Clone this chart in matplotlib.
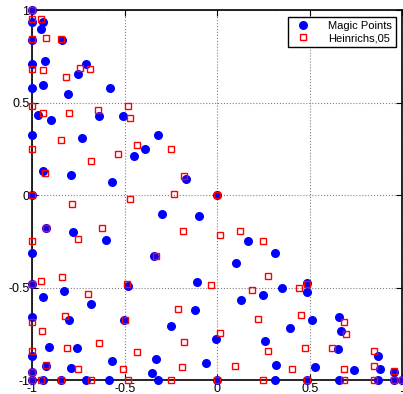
import matplotlib
matplotlib.use('Agg')
import matplotlib.pyplot as plt

# Magic Points (blue dots)
magic_x = [-1, -1, -0.941, -0.950, -1, -0.841, -0.932, -1, -0.710, -0.750,
           -1, -0.941, -0.809, -0.582, -0.971, -0.901, -0.640, -0.510,
           -1, -0.732, -0.391, -0.450, -0.941, -0.791, -0.571, -1, -0.923,
           -0.782, -0.600, -1, -0.341,
           -0.319, -0.169, 0, -0.301, -0.101, 0.169, 0.310,
           -1, -0.942, -0.831, -0.683, -1, -0.800, -0.503, -0.910, -0.760,
           -1, -0.569, -0.923, -0.791, -1, -1, -0.942, -0.845, -0.712,
           -0.584, -0.483,
           0.099, -0.110, 0.352, 0.250, 0.130, -0.121, -0.250, -0.009,
           0.259, -0.332, -0.059, 0.319, -0.350, -0.319, 0, 0.310,
           0.484, 0.484, 0.511, 0.394, 0.660, 0.669, 0.651, 0.871, 0.531,
           0.741, 0.880, 0.954, 0.484, 0.660, 0.871, 0.954, 1]
magic_y = [1, 0.937, 0.937, 0.897, 0.838, 0.838, 0.726, 0.708, 0.708, 0.658,
           0.577, 0.598, 0.548, 0.577, 0.436, 0.409, 0.429, 0.429,
           0.323, 0.312, 0.252, 0.211, 0.133, 0.112, 0.070, 0, -0.177,
           -0.198, -0.240, -0.312, -0.330,
           0.323, 0.090, 0, -0.099, -0.110, -0.249, -0.310,
           -0.478, -0.549, -0.518, -0.590, -0.657, -0.677, -0.677, -0.819,
           -0.828, -0.869, -0.896, -0.923, -0.936, -0.954, -1, -1, -1, -1,
           -1, -0.491,
           -0.368, -0.469, -0.499, -0.538, -0.568, -0.619, -0.709, -0.779,
           -0.788, -0.887, -0.909, -0.918, -0.959, -1, -1, -1,
           -0.477, -0.522, -0.677, -0.720, -0.657, -0.736, -0.830, -0.869,
           -0.927, -0.947, -0.938, -0.954, -1, -1, -1, -1, -1]

# Heinrichs,05 (red squares)
hein_x = [-1, -1, -0.953, -1, -0.928, -0.847, -1, -0.941, -0.742, -0.686,
          -0.816, -1, -0.944, -0.800, -0.643, -0.483, -0.470,
          -0.843, -1, -0.431, -0.537, -0.681, -0.930, -1, -0.474, -0.787,
          -0.923, -0.622, -0.755, -1,
          -0.250, -0.180, -0.236, 0, -0.186, 0.014, 0.121, 0.250, -0.332,
          -1, -0.955, -0.840, -0.696, -0.490, -1, -0.822, -0.948, -0.640,
          -0.814, -0.434, -1, -0.923, -0.750, -0.508, -1, -1, -0.950,
          -0.845, -0.685, -0.483, -0.497,
          0.272, -0.036, 0.186, -0.214, 0.223, 0.014, -0.182, 0.277,
          -0.189, 0.095, -0.250, 0, 0.249,
          0.484, 0.442, 0.455, 0.687, 0.696, 0.475, 0.623, 0.848, 0.846,
          0.687, 0.406, 0.954, 0.484, 0.687, 0.846, 0.954, 1]
hein_y = [1, 0.950, 0.951, 0.843, 0.849, 0.843, 0.681, 0.679, 0.688, 0.683,
          0.638, 0.481, 0.447, 0.443, 0.463, 0.481, 0.418,
          0.299, 0.250, 0.274, 0.225, 0.184, 0.121, 0, -0.020, -0.047,
          -0.177, -0.177, -0.236, -0.249,
          0.250, 0.103, 0.007, 0, -0.195, -0.213, -0.195, -0.249, -0.330,
          -0.482, -0.464, -0.441, -0.536, -0.482, -0.684, -0.653, -0.732,
          -0.797, -0.824, -0.846, -0.842, -0.920, -0.938, -0.938, -0.954,
          -1, -1, -1, -1, -1, -0.677,
          -0.435, -0.487, -0.511, -0.614, -0.669, -0.747, -0.794, -0.842,
          -0.931, -0.922, -1, -1, -1,
          -0.482, -0.500, -0.646, -0.684, -0.750, -0.826, -0.824, -0.844,
          -0.922, -0.941, -0.941, -0.950, -1, -1, -1, -1, -1]

plt.rcParams['font.family'] = ['Liberation Sans', 'DejaVu Sans']

fig = plt.figure(figsize=(4.03, 3.94), dpi=100)
ax = fig.add_axes([0.080, 0.035, 0.918, 0.939])

ax.plot(magic_x, magic_y, 'o', color='#0000ff', markersize=6.5,
        markeredgewidth=0, label='Magic Points', clip_on=False, zorder=3)
ax.plot(hein_x, hein_y, 's', markerfacecolor='none', markeredgecolor='#ff0000',
        markersize=5, markeredgewidth=1.0, label='Heinrichs,05',
        clip_on=False, zorder=4)

ax.set_xlim(-1, 1)
ax.set_ylim(-1, 1)
ax.set_xticks([-1, -0.5, 0, 0.5, 1])
ax.set_yticks([-1, -0.5, 0, 0.5, 1])
ax.set_xticklabels(['-1', '-0.5', '0', '0.5', '1'])
ax.set_yticklabels(['-1', '-0.5', '0', '0.5', '1'])
ax.tick_params(direction='in', top=True, right=True, length=4, width=0.8,
               labelsize=9, pad=2)
ax.grid(True, linestyle=':', color='#808080', linewidth=0.8)
for s in ax.spines.values():
    s.set_linewidth(1.2)

leg = ax.legend(loc='upper right', fontsize=8, fancybox=False, framealpha=1,
                edgecolor='black', borderpad=0.35, handletextpad=1.2,
                labelspacing=0.2, borderaxespad=0.6)
leg.get_frame().set_linewidth(1.0)

plt.savefig('out.png', dpi=100)
